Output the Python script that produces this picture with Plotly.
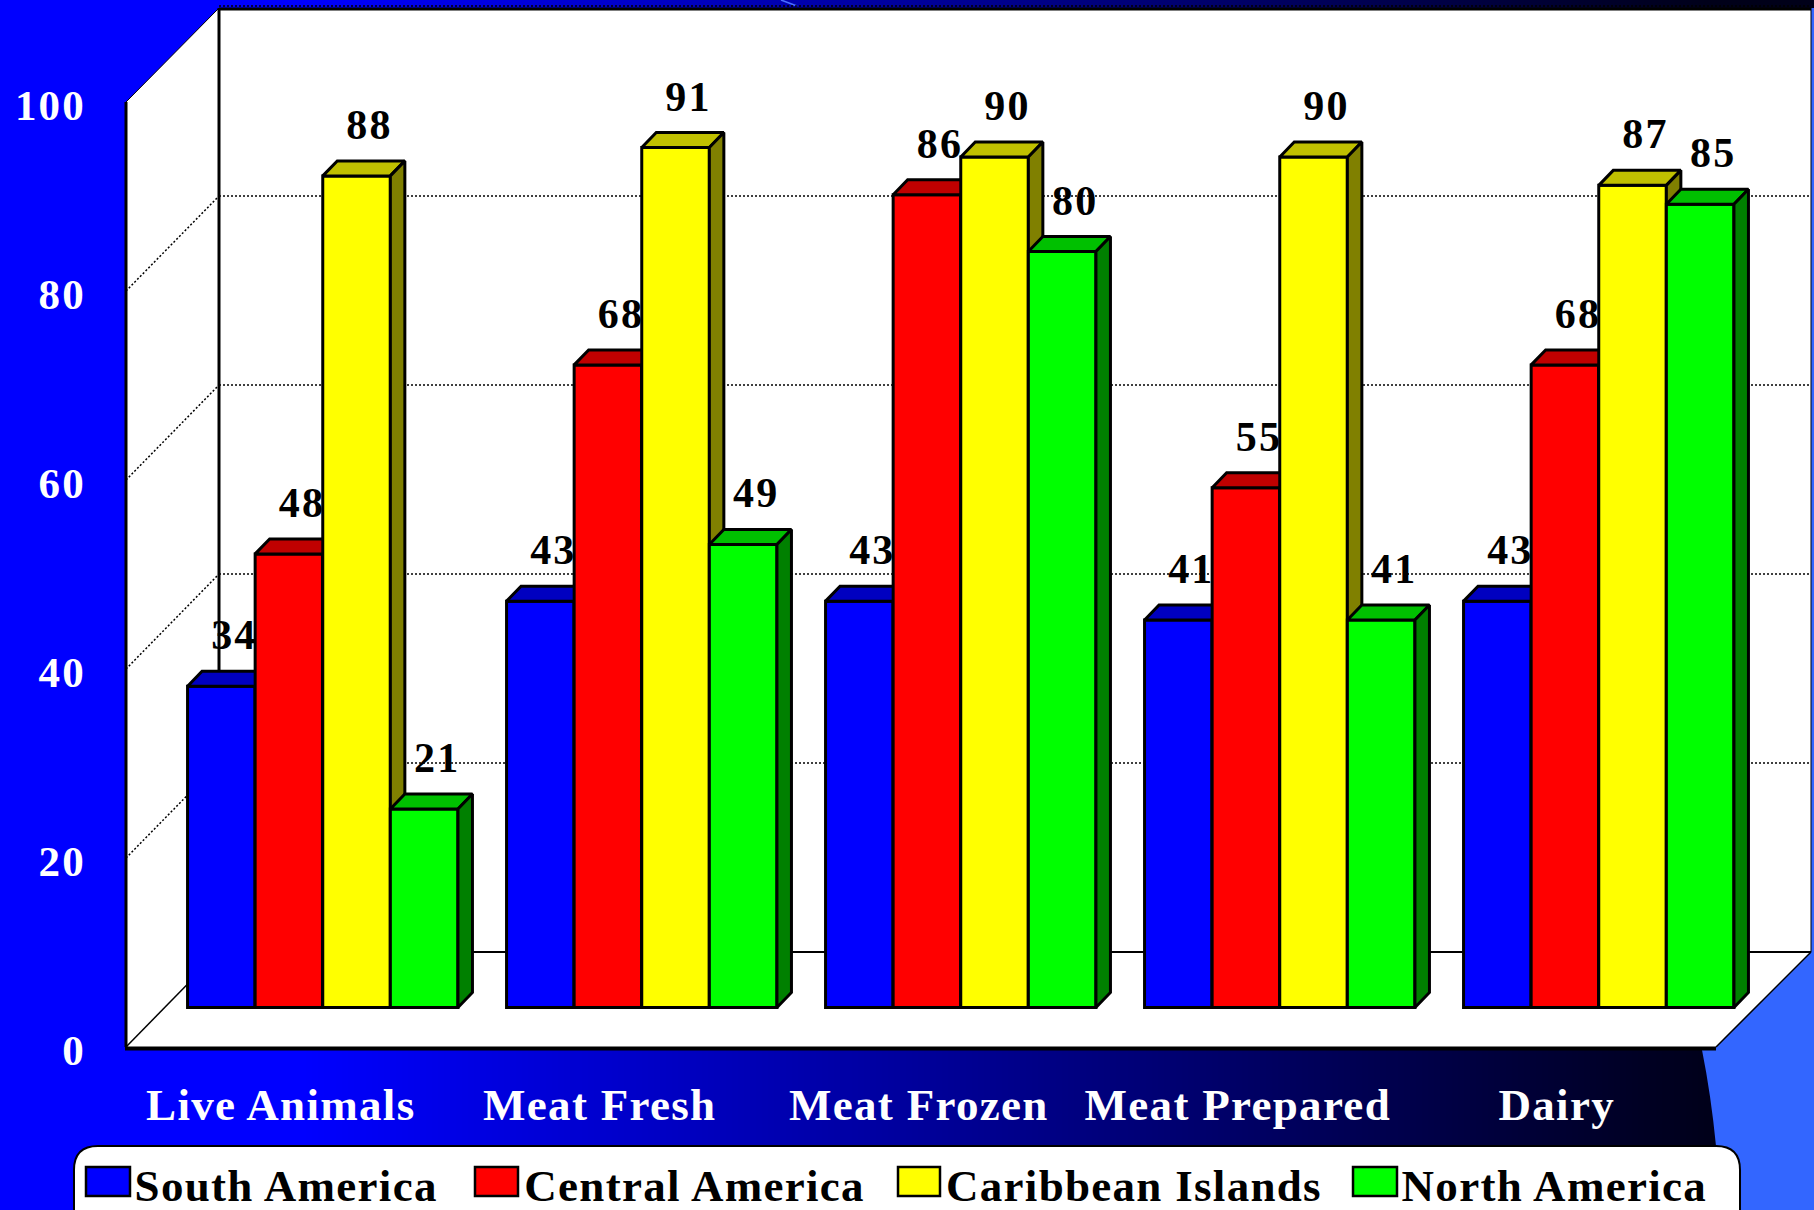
import plotly.graph_objects as go

categories = ["Live Animals", "Meat Fresh", "Meat Frozen", "Meat Prepared", "Dairy"]
south_america = [34, 43, 43, 41, 43]
central_america = [48, 68, 86, 55, 68]
caribbean_islands = [88, 91, 90, 90, 87]
north_america = [21, 49, 80, 41, 85]
y_ticks = [0, 20, 40, 60, 80, 100]

series = [
    ("South America", south_america, "#0000FF", "#0000C0", "#000080", 141, 86, 130),
    ("Central America", central_america, "#FF0000", "#C00000", "#800000", 532, 475, 518),
    ("Caribbean Islands", caribbean_islands, "#FFFF00", "#C0C000", "#808000", 955, 898, 940),
    ("North America", north_america, "#00FF00", "#00C000", "#008000", 1408, 1353, 1397),
]

W, H = 1814, 1210
SERIF = "Liberation Serif"
PX_X = 319.0      # pixels per category
PX_Y = 9.45       # pixels per value unit
X0 = 322.75       # pixel of first category centre (bar plane)
Y0 = 1007.5       # pixel of value 0 (bar plane)
BAR_W = 67.6 / PX_X
DX = 14.5 / PX_X
DY = 15.0 / PX_Y
BACK_L, BACK_R, BACK_Y0 = 219, 1811, 952
FRONT_L, FRONT_R, FRONT_Y0 = 126, 1716, 1047
GRID_DASH = "2px,2px"

x_range = [(0 - X0) / PX_X, (W - X0) / PX_X]
y_range = [(Y0 - H) / PX_Y, Y0 / PX_Y]


def px(x):
    return x / W


def py(y):
    return 1 - y / H


def poly(points, close=True):
    d = "M " + " L ".join(f"{px(a):.5f},{py(b):.5f}" for a, b in points)
    return d + (" Z" if close else "")


def shape_path(path, fill=None, line=None, width=0, dash=None, layer="below"):
    s = dict(type="path", xref="paper", yref="paper", path=path, layer=layer,
             line=dict(color=line or "rgba(0,0,0,0)", width=width))
    if dash:
        s["line"]["dash"] = dash
    if fill:
        s["fillcolor"] = fill
    return s


shapes = []
# gradient background
STEP = 6
for i in range(0, W, STEP):
    b = 255 if i < 300 else max(25, 255 - (i - 300) * 0.163)
    shapes.append(dict(type="rect", xref="paper", yref="paper", layer="below",
                       x0=px(i), x1=px(i + STEP + 1), y0=0, y1=1,
                       fillcolor=f"rgb(0,0,{int(b)})", line=dict(width=0)))
# lighter region at the lower right
shapes.append(shape_path(
    f"M {px(1702):.5f},{py(1050):.5f} Q {px(1711):.5f},{py(1095):.5f} {px(1716):.5f},{py(1146):.5f} "
    f"L {px(1722):.5f},{py(1210):.5f} L 1,0 L 1,{py(8):.5f} L {px(1702):.5f},{py(8):.5f} Z",
    fill="#3366FF"))
# streak at the top
shapes.append(shape_path(poly([(781, 0), (797, 6)], False), line="#4A70FF", width=1.5))
# walls
shapes.append(shape_path(poly([(FRONT_L, 102), (BACK_L, 8), (BACK_R, 8), (BACK_R, BACK_Y0),
                               (FRONT_R, FRONT_Y0), (FRONT_L, FRONT_Y0)]), fill="#FFFFFF"))
# grid: back wall and left wall
for t in y_ticks:
    by = BACK_Y0 - t * PX_Y
    fy = FRONT_Y0 - t * PX_Y
    if t == 0:
        shapes.append(shape_path(poly([(BACK_L, by), (BACK_R, by)], False), line="#000000", width=2))
        shapes.append(shape_path(poly([(FRONT_L, fy), (BACK_L, by)], False), line="#000000", width=1.5))
        continue
    y_line = by - 1 if t == 100 else by
    shapes.append(shape_path(poly([(BACK_L, y_line), (BACK_R, y_line)], False), line="#000000", width=1.5, dash=GRID_DASH))
    if t < 100:
        shapes.append(shape_path(poly([(FRONT_L, fy), (BACK_L, by)], False), line="#000000", width=1.5, dash=GRID_DASH))
# frame lines
shapes.append(shape_path(poly([(FRONT_L, 102), (BACK_L, 8)], False), line="#000000", width=1))
shapes.append(shape_path(poly([(BACK_L, 9), (BACK_R, 9)], False), line="#000000", width=3))
shapes.append(shape_path(poly([(BACK_L, 8), (BACK_L, BACK_Y0)], False), line="#000000", width=3))
shapes.append(shape_path(poly([(FRONT_L, 102), (FRONT_L, FRONT_Y0)], False), line="#000000", width=3))
shapes.append(shape_path(poly([(FRONT_L - 1, FRONT_Y0 + 1.5), (FRONT_R, FRONT_Y0 + 1.5)], False), line="#000000", width=4))
shapes.append(shape_path(poly([(FRONT_R, FRONT_Y0), (BACK_R, BACK_Y0)], False), line="#000000", width=1.5))
shapes.append(shape_path(poly([(BACK_R, 8), (BACK_R, BACK_Y0)], False), line="#000000", width=1))

# legend box
LX0, LX1, LY0, LY1, R = 74, 1740, 1146, 1240, 24
shapes.append(shape_path(
    f"M {px(LX0):.5f},{py(LY1):.5f} L {px(LX0):.5f},{py(LY0 + R):.5f} "
    f"Q {px(LX0):.5f},{py(LY0):.5f} {px(LX0 + R):.5f},{py(LY0):.5f} "
    f"L {px(LX1 - R):.5f},{py(LY0):.5f} Q {px(LX1):.5f},{py(LY0):.5f} {px(LX1):.5f},{py(LY0 + R):.5f} "
    f"L {px(LX1):.5f},{py(LY1):.5f} Z",
    fill="#FFFFFF", line="#000000", width=2, layer="above"))

annotations = []
fig = go.Figure()

for n, (name, vals, col, top, side, tx, s0, s1) in enumerate(series):
    suffix = "" if n == 0 else str(n + 1)
    xa, ya = "x" + suffix, "y" + suffix
    offset = (n - 2) * BAR_W
    fig.add_trace(go.Bar(
        name=name, x=list(range(len(vals))), y=vals, width=BAR_W, offset=offset,
        marker=dict(color=col, line=dict(color="#000000", width=3)),
        xaxis=xa, yaxis=ya, showlegend=False))
    top_x, top_y, side_x, side_y = [], [], [], []
    for g, v in enumerate(vals):
        xl = g + offset
        xr = xl + BAR_W
        top_x += [xl, xl + DX, xr + DX, xr, xl, None]
        top_y += [v, v + DY, v + DY, v, v, None]
        side_x += [xr, xr + DX, xr + DX, xr, xr, None]
        side_y += [v, v + DY, DY, 0, v, None]
    for fx, fy, c in ((top_x, top_y, top), (side_x, side_y, side)):
        fig.add_trace(go.Scatter(x=fx, y=fy, mode="lines", fill="toself", fillcolor=c,
                                 line=dict(color="#000000", width=3), xaxis=xa, yaxis=ya,
                                 showlegend=False, hoverinfo="skip"))
    fig.add_trace(go.Scatter(
        x=[g + offset + BAR_W / 2 + 13 / PX_X for g in range(len(vals))],
        y=[v + 47.5 / PX_Y for v in vals],
        mode="text", text=[str(v) for v in vals], textposition="middle center",
        textfont=dict(family=SERIF, size=42, color="#000000", weight="bold"),
        xaxis=xa, yaxis=ya, showlegend=False, cliponaxis=False))
    # legend swatch and label
    shapes.append(shape_path(poly([(s0, 1167), (s1, 1167), (s1, 1196), (s0, 1196)]),
                             fill=col, line="#000000", width=2.5, layer="above"))
    annotations.append(dict(xref="paper", yref="paper", x=px(tx), y=py(1186), xanchor="left",
                            yanchor="middle", text=name, showarrow=False,
                            font=dict(family=SERIF, size=45, color="#000000", weight="bold")))

# axis that carries the category labels and value labels, in the front plane
fig.add_trace(go.Scatter(x=[0], y=[0], mode="markers", marker=dict(opacity=0), xaxis="x5", yaxis="y5",
                         showlegend=False, hoverinfo="skip"))

layout_axes = {}
for n in range(1, 5):
    key = "" if n == 1 else str(n)
    xa = dict(range=x_range, visible=False, fixedrange=True, domain=[0, 1])
    ya = dict(range=y_range, visible=False, fixedrange=True, domain=[0, 1])
    if n > 1:
        xa["overlaying"] = "x"
        ya["overlaying"] = "y"
    layout_axes["xaxis" + key] = xa
    layout_axes["yaxis" + key] = ya

LABEL_SHIFT_X = -42.0
TICK_Y0 = 1049.7
layout_axes["xaxis5"] = dict(
    range=[(0 - X0 - LABEL_SHIFT_X) / PX_X, (W - X0 - LABEL_SHIFT_X) / PX_X],
    overlaying="x", anchor="free", position=py(1074.3), side="bottom", fixedrange=True,
    tickmode="array", tickvals=list(range(len(categories))), ticktext=categories,
    ticks="", showgrid=False, zeroline=False, showline=False,
    tickfont=dict(family=SERIF, size=45, color="#FFFFFF", weight="bold"))
layout_axes["yaxis5"] = dict(
    range=[(TICK_Y0 - H) / PX_Y, TICK_Y0 / PX_Y],
    overlaying="y", anchor="free", position=px(86), side="left", fixedrange=True,
    tickmode="array", tickvals=y_ticks, ticktext=[str(t) for t in y_ticks],
    ticks="", showgrid=False, zeroline=False, showline=False,
    tickfont=dict(family=SERIF, size=43, color="#FFFFFF", weight="bold"))

fig.update_layout(
    width=W, height=H, margin=dict(l=0, r=0, t=0, b=0, pad=0), autosize=False,
    paper_bgcolor="#0000FF", plot_bgcolor="rgba(0,0,0,0)", showlegend=False,
    barmode="overlay", shapes=shapes, annotations=annotations, **layout_axes)

# the reference's lettering is tracked out: widen it without changing the font
POST = """
document.body.style.margin='0';document.body.style.overflow='hidden';
function sp(sel,v){document.querySelectorAll(sel).forEach(function(t){t.style.letterSpacing=v;});}
sp('.x5tick text','1.3px');sp('.annotation-text','1.3px');sp('.y5tick text','2.2px');sp('.textpoint text','2.2px');
"""
fig.write_html("out.html", post_script=POST, config={"displayModeBar": False})
